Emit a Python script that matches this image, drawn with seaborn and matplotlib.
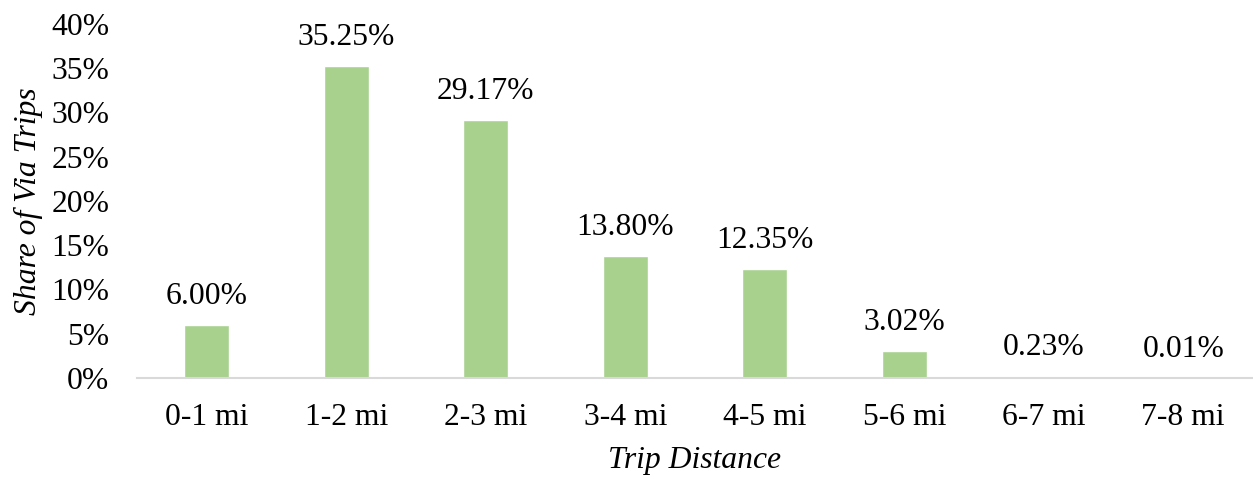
import pandas as pd
import seaborn as sns
import matplotlib.pyplot as plt
from matplotlib.ticker import FuncFormatter

# data
distances = ["0-1 mi", "1-2 mi", "2-3 mi", "3-4 mi", "4-5 mi", "5-6 mi", "6-7 mi", "7-8 mi"]
shares = [6.00, 35.25, 29.17, 13.80, 12.35, 3.02, 0.23, 0.01]

df = pd.DataFrame({"distance": distances, "share": shares})

sns.set_style("white")
plt.rcParams["font.family"] = ["Liberation Serif", "DejaVu Serif"]
plt.rcParams["text.color"] = "black"
plt.rcParams["axes.labelcolor"] = "black"
plt.rcParams["xtick.color"] = "black"
plt.rcParams["ytick.color"] = "black"

fig = plt.figure(figsize=(12.53, 4.79), dpi=100)
ax = fig.add_axes([0.1093, 0.2109, 0.8907, 0.7391])

sns.barplot(data=df, x="distance", y="share", color="#A9D18E", width=0.32,
            saturation=1, ax=ax)

ax.bar_label(ax.containers[0], labels=[f"{v:.2f}%" for v in shares],
             padding=10, fontsize=22.8, color="black")

ax.set_ylim(0, 40)
ax.set_yticks(range(0, 41, 5))
ax.yaxis.set_major_formatter(FuncFormatter(lambda v, p: f"{v:.0f}%"))
ax.tick_params(axis="y", length=0, pad=20, labelsize=22.8)
ax.tick_params(axis="x", length=0, pad=18, labelsize=22.8)

ax.set_xlabel("Trip Distance", fontsize=22.8, style="italic", labelpad=10)
ax.set_ylabel("Share of Via Trips", fontsize=22.8, style="italic", labelpad=6)

for s in ["top", "right", "left"]:
    ax.spines[s].set_visible(False)
ax.spines["bottom"].set_color("#D9D9D9")
ax.spines["bottom"].set_linewidth(1.5)

plt.savefig("out.png", dpi=100)
